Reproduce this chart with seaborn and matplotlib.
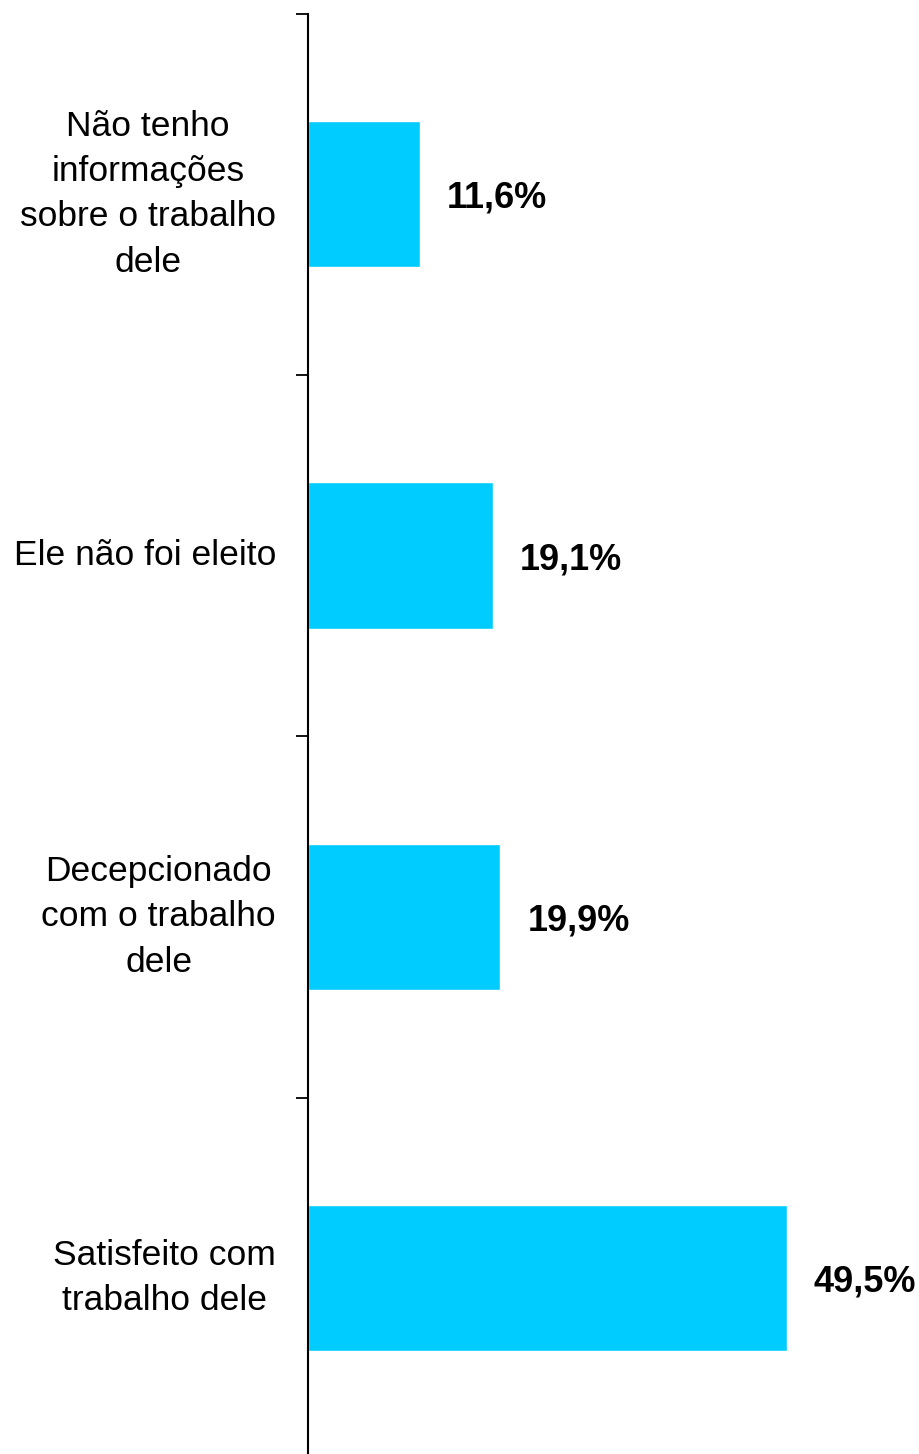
import matplotlib
matplotlib.use("Agg")
import matplotlib.pyplot as plt
import seaborn as sns
import pandas as pd

# Data
categorias = [
    "Não tenho\ninformações\nsobre o trabalho\ndele",
    "Ele não foi eleito",
    "Decepcionado\ncom o trabalho\ndele",
    "Satisfeito com\ntrabalho dele",
]
percentuais = [11.6, 19.1, 19.9, 49.5]

df = pd.DataFrame({"categoria": categorias, "pct": percentuais})

sns.set_style("white")
plt.rcParams["font.family"] = ["Liberation Sans", "DejaVu Sans"]

fig = plt.figure(figsize=(9.19, 14.54), dpi=100)
ax = fig.add_axes([308 / 919, -5 / 1454, 611 / 919, 1 - 8.5 / 1454])

sns.barplot(data=df, x="pct", y="categoria", orient="h", color="#00CCFF",
            width=0.405, saturation=1, ax=ax)

ax.set_xlim(0, 63.2)
ax.set_ylim(3.5, -0.5)

# value labels
for i, v in enumerate(percentuais):
    ax.text(v + 2.8, i, f"{v:.1f}".replace(".", ",") + "%", va="center_baseline", ha="left",
            fontsize=26, fontweight="bold", color="black", clip_on=False)

# separator ticks at category boundaries, labels at category centres
ax.set_yticks([-0.5, 0.5, 1.5, 2.5])
ax.set_yticklabels([])
ax.set_yticks(range(len(categorias)), minor=True)
ax.set_yticklabels(categorias, minor=True, fontsize=25.5, multialignment="center",
                   linespacing=1.47, color="black", va="center")
ax.tick_params(axis="y", which="major", direction="out", length=9, width=1.3, color="black", left=True)
ax.tick_params(axis="y", which="minor", length=0, pad=23)

ax.set_xticks([])
ax.set_xlabel("")
ax.set_ylabel("")
for side in ["top", "right", "bottom"]:
    ax.spines[side].set_visible(False)
ax.spines["left"].set_color("black")
ax.spines["left"].set_linewidth(1.5)

fig.savefig("out.png", dpi=100)
